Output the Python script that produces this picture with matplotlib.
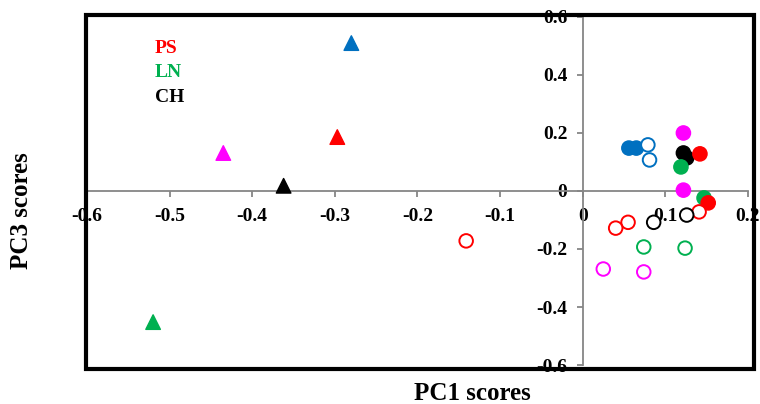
import matplotlib
matplotlib.use("Agg")
import matplotlib.pyplot as plt
from matplotlib.patches import Rectangle

# colours used in the chart
RED = "#FF0000"
GREEN = "#00B050"
BLUE = "#0070C0"
MAGENTA = "#FF00FF"
BLACK = "#000000"

# filled triangles
tri_x = [-0.280, -0.297, -0.435, -0.362, -0.520]
tri_y = [0.510, 0.186, 0.131, 0.018, -0.452]
tri_c = [BLUE, RED, MAGENTA, BLACK, GREEN]

# filled circles
fc_x = [0.056, 0.065, 0.122, 0.122, 0.126, 0.142, 0.119, 0.122, 0.147, 0.152]
fc_y = [0.148, 0.148, 0.200, 0.131, 0.114, 0.128, 0.083, 0.003, -0.024, -0.041]
fc_c = [BLUE, BLUE, MAGENTA, BLACK, BLACK, RED, GREEN, MAGENTA, GREEN, RED]

# open circles
oc_x = [0.079, 0.081, 0.141, 0.055, 0.040, 0.126, 0.086, 0.074, 0.124, 0.025, 0.074, -0.141]
oc_y = [0.159, 0.107, -0.072, -0.108, -0.128, -0.083, -0.108, -0.193, -0.197, -0.269, -0.279, -0.172]
oc_c = [BLUE, BLUE, RED, RED, RED, BLACK, BLACK, GREEN, GREEN, MAGENTA, MAGENTA, RED]

xticks = [-0.6, -0.5, -0.4, -0.3, -0.2, -0.1, 0, 0.1, 0.2]
xtick_labels = ["-0.6", "-0.5", "-0.4", "-0.3", "-0.2", "-0.1", "0", "0.1", "0.2"]
yticks = [-0.6, -0.4, -0.2, 0, 0.2, 0.4, 0.6]
ytick_labels = ["-0.6", "-0.4", "-0.2", "0", "0.2", "0.4", "0.6"]

legend_labels = ["PS", "LN", "CH"]
legend_colors = [RED, GREEN, BLACK]

plt.rcParams["font.family"] = ["Liberation Serif", "DejaVu Serif"]
plt.rcParams["font.weight"] = "bold"

fig = plt.figure(figsize=(7.6, 4.04), dpi=100)
ax = fig.add_axes([0.1145, 0.0965, 0.8695, 0.8615])

ax.set_xlim(-0.6, 0.2)
ax.set_ylim(-0.6, 0.6)

# axes crossing at the origin
ax.spines["left"].set_position("zero")
ax.spines["bottom"].set_position("zero")
ax.spines["top"].set_visible(False)
ax.spines["right"].set_visible(False)
for s in ["left", "bottom"]:
    ax.spines[s].set_color("#868686")
    ax.spines[s].set_linewidth(1.3)

ax.set_xticks(xticks)
ax.set_xticklabels(xtick_labels)
ax.set_yticks(yticks)
ax.set_yticklabels(ytick_labels)
ax.tick_params(axis="both", direction="out", length=4, width=1.3, color="#868686",
               labelsize=14)
ax.tick_params(axis="x", pad=8)
ax.tick_params(axis="y", pad=7)

ax.scatter(tri_x, tri_y, marker="^", s=110, c=tri_c, edgecolors=tri_c, zorder=3)
ax.scatter(fc_x, fc_y, marker="o", s=105, c=fc_c, edgecolors=fc_c, zorder=3)
ax.scatter(oc_x, oc_y, marker="o", s=95, facecolors="white", edgecolors=oc_c,
           linewidths=1.4, zorder=3)

# text legend
for i, (lab, col) in enumerate(zip(legend_labels, legend_colors)):
    ax.text(0.103, 0.8966 - i * 0.0704, lab, color=col, transform=ax.transAxes,
            fontsize=14, fontweight="bold", va="baseline", ha="left")

fig.text(0.621, 0.026, "PC1 scores", ha="center", va="center", fontsize=18, fontweight="bold")
fig.text(0.028, 0.479, "PC3 scores", ha="center", va="center", rotation=90,
         fontsize=18, fontweight="bold")

# thick plot-area frame
frame = Rectangle((0.113, 0.0866), 0.879, 0.8764, transform=fig.transFigure,
                  fill=False, edgecolor="black", linewidth=3, zorder=5)
fig.patches.append(frame)

fig.savefig("out.png", dpi=100)
